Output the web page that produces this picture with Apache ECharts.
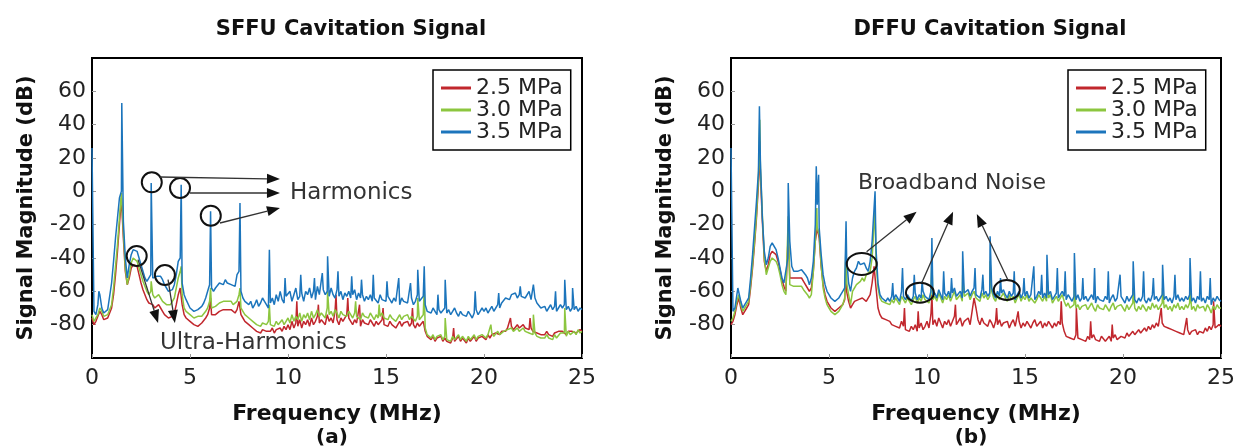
<!DOCTYPE html>
<html>
<head>
<meta charset="utf-8">
<script src="https://cdn.jsdelivr.net/npm/echarts@6/dist/echarts.min.js"></script>
<style>
  html, body { margin: 0; padding: 0; background: #fff; }
  #chart { width: 1240px; height: 447px; }
</style>
</head>
<body>
<div id="chart"></div>
<script>
// spectra sampled every 0.1 MHz from 0 to 25 MHz, values in dB
const STEP = 0.1;
const seriesNames = ['2.5 MPa', '3.0 MPa', '3.5 MPa'];
const colors = ['#c1272d', '#8cc63f', '#1c75bc'];

// SFFU, 3.5 MPa
const sffuHigh = [
  26, -72, -74, -68, -62, -70, -73, -72, -71, -70,
  -55, -42, -28, -16, -4, 0, -18, -40, -52, -44,
  -38, -35, -34, -36, -40, -44, -48, -52, -54, -55,
  -50, -52, -53, -51, -50, -51, -53, -56, -58, -60,
  -60, -59, -56, -50, -42, -40, -55, -62, -65, -66,
  -70, -71, -72, -72, -71, -70, -69, -67, -64, -60,
  -56, -58, -60, -58, -57, -55, -54, -56, -53, -55,
  -54, -56, -55, -57, -50, -48, -60, -64, -66, -65,
  -68, -66, -70, -68, -65, -69, -67, -64, -66, -68,
  -70, -67, -64, -68, -62, -66, -60, -65, -67, -63,
  -64, -60, -66, -62, -58, -65, -63, -61, -66, -60,
  -62, -58, -64, -60, -65, -57, -62, -63, -59, -62,
  -60, -63, -58, -62, -64, -59, -63, -60, -65, -61,
  -63, -60, -64, -62, -59, -65, -61, -64, -62, -66,
  -63, -65, -62, -66, -64, -63, -67, -62, -65, -64,
  -66, -63, -65, -67, -64, -66, -65, -68, -64, -66,
  -65, -67, -66, -64, -68, -66, -62, -66, -65, -63,
  -68, -72, -71, -73, -70, -72, -74, -71, -73, -72,
  -70, -73, -71, -74, -72, -70, -73, -75, -72, -74,
  -73, -75, -72, -74, -76, -73, -71, -74, -72, -70,
  -72, -70, -73, -71, -69, -72, -70, -68, -70, -67,
  -66, -64, -63, -65, -62, -63, -61, -64, -62, -63,
  -62, -64, -63, -60, -65, -66, -64, -67, -68, -70,
  -71, -69, -72, -70, -68, -71, -69, -72, -70, -68,
  -70, -68, -71, -69, -72, -70, -71, -69, -72, -70,
  -71
];
const sffuHighSpikes = [
  [0.35, -60], [1.52, 53], [3.02, 5], [4.55, 4], [6.05, -12], [7.55, -7], [9.05, -35],
  [9.85, -52], [10.65, -50], [11.35, -52], [11.75, -49], [12.02, -39], [12.55, -48],
  [13.25, -51], [13.75, -53], [14.35, -50], [15.05, -54], [15.65, -52], [16.25, -55],
  [16.62, -47], [16.95, -45], [17.65, -62], [18.02, -53], [19.55, -60], [20.75, -61],
  [21.85, -57], [22.52, -56], [23.65, -60], [24.12, -53], [24.52, -58]
];

// SFFU, 3.0 MPa
const sffuMid = [
  -74, -78, -76, -74, -70, -72, -75, -76, -74, -73,
  -68, -58, -45, -32, -16, -1, -24, -46, -56, -50,
  -43, -40, -40, -42, -46, -50, -54, -57, -60, -62,
  -60, -62, -64, -63, -62, -64, -66, -67, -68, -68,
  -68, -67, -64, -58, -52, -48, -62, -70, -72, -73,
  -74, -75, -76, -76, -75, -76, -75, -74, -72, -70,
  -66, -70, -70, -69, -68, -67, -67, -66, -67, -66,
  -67, -66, -68, -67, -66, -62, -70, -72, -74, -75,
  -76, -77, -78, -79, -80, -80, -81, -79, -80, -80,
  -78, -80, -79, -81, -78, -80, -79, -77, -80, -78,
  -76, -79, -74, -78, -75, -77, -73, -78, -74, -76,
  -73, -77, -72, -76, -74, -71, -75, -73, -72, -76,
  -70, -74, -72, -75, -71, -73, -76, -72, -74, -73,
  -75, -72, -74, -76, -73, -75, -74, -77, -73, -75,
  -74, -76, -73, -75, -77, -74, -76, -75, -73, -76,
  -75, -77, -74, -76, -75, -78, -76, -74, -77, -75,
  -76, -74, -77, -75, -76, -78, -75, -77, -76, -74,
  -82, -86, -87, -88, -86, -89, -87, -88, -86, -89,
  -87, -89, -88, -90, -87, -89, -88, -86, -89, -87,
  -88, -90, -87, -89, -88, -86, -89, -87, -88, -86,
  -87, -88, -86, -87, -85, -87, -86, -84, -86, -85,
  -84, -85, -83, -84, -82, -84, -83, -82, -84, -83,
  -82, -84, -83, -85, -84, -86, -85, -87, -86, -88,
  -87, -88, -86, -88, -87, -89, -86, -88, -87, -85,
  -86, -85, -87, -84, -86, -85, -84, -86, -83, -85,
  -84
];
const sffuMidSpikes = [
  [3.02, -54], [4.55, -45], [6.05, -58], [7.55, -58], [9.05, -68], [12.02, -60],
  [13.45, -66], [14.65, -68], [16.62, -64], [16.95, -58], [18.02, -76], [20.35, -80],
  [22.52, -74], [24.12, -70]
];

// SFFU, 2.5 MPa
const sffuLow = [
  -76, -80, -78, -75, -72, -74, -77, -78, -76, -75,
  -70, -62, -50, -36, -20, -4, -28, -48, -56, -52,
  -46, -44, -43, -45, -50, -55, -59, -62, -65, -67,
  -67, -68, -70, -69, -68, -70, -72, -74, -75, -76,
  -76, -75, -73, -68, -62, -58, -68, -74, -76, -77,
  -78, -79, -80, -80, -81, -80, -79, -78, -76, -74,
  -70, -74, -75, -74, -73, -72, -72, -71, -72, -71,
  -72, -71, -72, -73, -71, -66, -74, -76, -78, -79,
  -80, -81, -82, -83, -84, -84, -85, -83, -84, -84,
  -83, -84, -82, -85, -83, -84, -82, -84, -81, -83,
  -80, -83, -78, -82, -79, -81, -77, -82, -78, -80,
  -77, -81, -76, -80, -78, -75, -79, -77, -76, -80,
  -74, -78, -76, -79, -72, -77, -80, -76, -78, -77,
  -74, -76, -78, -80, -77, -79, -78, -81, -77, -79,
  -78, -80, -77, -79, -81, -78, -80, -79, -77, -80,
  -79, -81, -78, -80, -79, -82, -80, -78, -81, -79,
  -80, -78, -81, -79, -80, -82, -79, -81, -80, -78,
  -84, -87, -88, -89, -87, -90, -88, -89, -87, -90,
  -88, -90, -89, -91, -88, -90, -89, -87, -90, -88,
  -89, -91, -88, -90, -89, -87, -90, -88, -89, -87,
  -88, -89, -86, -88, -86, -87, -85, -84, -86, -84,
  -83, -84, -82, -83, -81, -83, -82, -80, -82, -81,
  -80, -82, -81, -83, -82, -84, -83, -85, -84, -86,
  -85, -86, -84, -86, -85, -87, -85, -86, -84, -85,
  -84, -85, -86, -84, -85, -84, -83, -85, -84, -83,
  -84
];
const sffuLowSpikes = [
  [6.05, -64], [10.45, -66], [11.55, -68], [12.45, -62], [13.05, -64], [13.65, -68],
  [14.85, -70], [16.35, -70], [18.45, -82], [21.35, -76], [22.35, -76]
];

// DFFU, 3.5 MPa
const dffuHigh = [
  26, -72, -70, -62, -58, -66, -70, -68, -66, -64,
  -52, -38, -22, -6, 12, 18, -16, -36, -44, -40,
  -33, -31, -32, -35, -40, -46, -52, -55, -54, -40,
  -30, -45, -48, -47, -48, -49, -47, -48, -50, -52,
  -56, -52, -42, -20, -8, -22, -38, -50, -56, -60,
  -62, -64, -65, -66, -65, -64, -62, -60, -58, -40,
  -55, -60, -52, -48, -46, -42, -44, -45, -43, -46,
  -48, -42, -30, -10, -35, -55, -62, -64, -65, -66,
  -64, -66, -63, -65, -62, -64, -66, -60, -63, -65,
  -62, -64, -66, -63, -61, -65, -62, -64, -60, -63,
  -62, -65, -60, -63, -61, -64, -59, -62, -65, -61,
  -63, -60, -64, -61, -58, -63, -62, -60, -64, -61,
  -62, -59, -63, -60, -58, -62, -61, -64, -59, -62,
  -60, -63, -61, -58, -62, -64, -60, -63, -61, -59,
  -62, -64, -60, -63, -61, -65, -62, -60, -64, -61,
  -63, -60, -64, -62, -61, -65, -63, -60, -62, -64,
  -61, -64, -62, -60, -65, -63, -61, -64, -62, -60,
  -63, -65, -62, -64, -66, -63, -65, -62, -66, -64,
  -65, -63, -66, -64, -62, -65, -67, -63, -65, -64,
  -66, -63, -65, -67, -64, -62, -66, -64, -65, -63,
  -65, -67, -63, -66, -64, -62, -65, -67, -64, -66,
  -63, -65, -67, -64, -66, -62, -65, -63, -66, -64,
  -62, -65, -63, -66, -64, -67, -63, -65, -62, -66,
  -64, -66, -63, -65, -62, -66, -64, -67, -63, -65,
  -66, -64, -67, -63, -65, -68, -64, -66, -63, -65,
  -66
];
const dffuHighSpikes = [
  [0.35, -58], [1.45, 51], [2.92, 5], [4.35, 15], [4.47, 10], [5.87, -18], [7.35, 0],
  [8.25, -55], [8.75, -46], [9.35, -50], [9.75, -54], [10.25, -28], [10.85, -48],
  [11.25, -52], [11.82, -36], [12.45, -46], [12.85, -50], [13.22, -27], [13.75, -52],
  [14.45, -48], [14.95, -52], [15.45, -45], [15.85, -50], [16.12, -38], [16.65, -46],
  [17.05, -48], [17.52, -37], [17.95, -52], [18.55, -46], [19.25, -48], [19.85, -50],
  [20.52, -42], [21.05, -48], [21.55, -52], [22.02, -44], [22.65, -50], [23.42, -40],
  [23.95, -48], [24.45, -52]
];

// DFFU, 3.0 MPa
const dffuMid = [
  -78, -76, -72, -66, -62, -68, -72, -70, -68, -66,
  -56, -44, -30, -14, 8, 14, -14, -40, -50, -46,
  -42, -40, -40, -42, -45, -50, -56, -60, -62, -63,
  -56, -56, -57, -58, -57, -58, -57, -59, -60, -62,
  -64, -62, -48, -30, -22, -26, -44, -58, -64, -68,
  -70, -72, -73, -74, -73, -72, -70, -68, -64, -55,
  -62, -68, -60, -58, -56, -55, -54, -52, -54, -50,
  -50, -48, -40, -20, -42, -58, -64, -66, -66, -67,
  -66, -68, -65, -67, -64, -66, -68, -63, -65, -67,
  -64, -66, -68, -65, -63, -67, -64, -66, -62, -65,
  -64, -67, -62, -65, -63, -66, -61, -64, -67, -63,
  -65, -62, -66, -63, -60, -65, -64, -62, -66, -63,
  -64, -61, -65, -62, -60, -64, -63, -66, -61, -64,
  -62, -65, -63, -60, -64, -66, -62, -65, -63, -61,
  -64, -66, -62, -65, -63, -67, -64, -62, -66, -63,
  -65, -62, -66, -64, -63, -67, -65, -62, -64, -66,
  -63, -66, -64, -62, -67, -65, -63, -66, -64, -62,
  -66, -69, -67, -70, -71, -68, -70, -68, -71, -69,
  -70, -68, -71, -69, -67, -70, -72, -68, -70, -69,
  -71, -68, -70, -72, -69, -67, -71, -69, -70, -68,
  -70, -72, -68, -71, -69, -67, -70, -72, -69, -71,
  -68, -70, -72, -69, -71, -67, -70, -68, -71, -69,
  -67, -70, -68, -71, -69, -72, -68, -70, -67, -71,
  -69, -71, -68, -70, -67, -71, -69, -72, -68, -70,
  -71, -69, -72, -68, -70, -73, -69, -71, -68, -70,
  -70
];
const dffuMidSpikes = [
  [1.47, 43], [2.92, -15], [4.38, -10], [5.87, -30], [7.35, -12], [10.25, -40],
  [11.82, -50], [13.22, -42], [16.12, -50], [17.52, -55], [20.52, -58], [22.02, -58],
  [23.42, -56]
];

// DFFU, 2.5 MPa
const dffuLow = [
  -80, -78, -74, -68, -64, -70, -74, -72, -70, -68,
  -58, -46, -32, -16, 4, 10, -18, -42, -48, -44,
  -38, -36, -36, -38, -42, -47, -53, -57, -60, -61,
  -52, -51, -52, -53, -52, -53, -52, -54, -55, -58,
  -60, -58, -48, -30, -22, -28, -45, -56, -62, -66,
  -68, -70, -71, -72, -71, -70, -69, -68, -65, -60,
  -66, -70, -68, -66, -67, -65, -66, -64, -65, -66,
  -65, -62, -55, -45, -58, -70, -74, -76, -75, -77,
  -76, -78, -80, -79, -81, -80, -82, -78, -81, -83,
  -82, -84, -81, -83, -80, -84, -82, -79, -83, -81,
  -78, -82, -74, -80, -77, -81, -76, -79, -82, -78,
  -80, -77, -81, -78, -75, -80, -79, -76, -81, -78,
  -79, -76, -80, -72, -64, -70, -77, -80, -76, -79,
  -78, -81, -77, -79, -82, -78, -80, -77, -81, -79,
  -80, -78, -82, -79, -77, -81, -80, -78, -82, -79,
  -81, -78, -80, -82, -79, -77, -81, -80, -78, -82,
  -79, -81, -78, -80, -82, -79, -81, -78, -80, -79,
  -84, -87, -86, -88, -87, -89, -86, -88, -87, -89,
  -88, -90, -87, -89, -88, -86, -89, -88, -90, -87,
  -88, -90, -89, -87, -90, -88, -86, -89, -88, -87,
  -86, -88, -85, -87, -86, -84, -86, -85, -83, -85,
  -84, -82, -84, -81, -83, -80, -82, -79, -81, -80,
  -79, -81, -80, -82, -81, -83, -82, -84, -83, -85,
  -84, -86, -85, -83, -86, -84, -85, -83, -86, -84,
  -83, -85, -82, -84, -81, -83, -80, -82, -81, -80,
  -81
];
const dffuLowSpikes = [
  [1.47, 30], [2.92, -25], [5.87, -40], [8.85, -70], [9.55, -72], [10.25, -62],
  [11.45, -68], [13.55, -70], [14.65, -72], [16.85, -66], [17.62, -70], [18.35, -78],
  [19.45, -80], [21.95, -70], [23.25, -76], [24.62, -66]
];

// annotations, in data coordinates [MHz, dB]
const sffuCircles = [[3.05, 5.4], [4.49, 2], [6.06, -14.6], [2.28, -38.8], [3.72, -50.2]];
const sffuArrows = [
  [[3.47, 8.6], [9.59, 7.4]],
  [[5.0, -1], [9.59, -1]],
  [[6.53, -19], [9.59, -10]],
  [[2.35, -41], [3.37, -79]],
  [[3.88, -53], [4.23, -79]]
];
const dffuEllipses = [[6.67, -43.6, 15, 11], [9.64, -60.8, 14, 10], [14.07, -59.2, 13, 10]];
const dffuArrows = [
  [[6.92, -36.2], [9.47, -12.2]],
  [[9.73, -55], [11.33, -12.2]],
  [[14.13, -53.2], [12.54, -13.6]]
];

function build(values, spikes) {
  const pts = values.map((v, i) => [Math.round(i * STEP * 100) / 100, v]);
  spikes.forEach(s => pts.push(s));
  pts.sort((a, b) => a[0] - b[0]);
  return pts;
}

const chart = echarts.init(document.getElementById('chart'));
const font = '"DejaVu Sans", sans-serif';

function xAxisFor(gi) {
  return {
    gridIndex: gi, type: 'value', min: 0, max: 25, interval: 5,
    axisLine: { show: true, onZero: false, lineStyle: { color: '#000', width: 2 } },
    axisTick: { inside: true, length: 4, lineStyle: { color: '#999' } },
    axisLabel: { fontSize: 22, color: '#222', margin: 9, fontFamily: font },
    splitLine: { show: false },
    name: 'Frequency (MHz)', nameLocation: 'middle', nameGap: 45,
    nameTextStyle: { fontSize: 22, fontWeight: 'bold', color: '#111', fontFamily: font }
  };
}
function yAxisFor(gi) {
  return {
    gridIndex: gi, type: 'value', min: -100, max: 80, interval: 20,
    axisLine: { show: true, onZero: false, lineStyle: { color: '#000', width: 2 } },
    axisTick: { inside: true, length: 4, lineStyle: { color: '#999' } },
    axisLabel: { fontSize: 22, color: '#222', margin: 6, fontFamily: font,
      showMinLabel: false, showMaxLabel: false },
    splitLine: { show: false },
    name: 'Signal Magnitude (dB)', nameLocation: 'middle', nameGap: 55, nameRotate: 90,
    nameTextStyle: { fontSize: 21, fontWeight: 'bold', color: '#111', fontFamily: font }
  };
}
function lineSeries(name, gi, data, color) {
  return {
    name: name, type: 'line', xAxisIndex: gi, yAxisIndex: gi, data: data,
    showSymbol: false, symbol: 'none', animation: false,
    lineStyle: { color: color, width: 1.5 }, itemStyle: { color: color }
  };
}
function legendAt(left) {
  return {
    data: seriesNames, orient: 'vertical', left: left, top: 70,
    icon: 'rect', itemWidth: 30, itemHeight: 3, itemGap: 0,
    borderColor: '#000', borderWidth: 1.5, padding: [7, 8, 7, 8],
    textStyle: { fontSize: 22, color: '#222', fontFamily: font, lineHeight: 22 }
  };
}

chart.setOption({
  animation: false,
  grid: [
    { left: 92, top: 58, width: 490, height: 300, show: true, borderColor: '#000', borderWidth: 2 },
    { left: 731, top: 58, width: 490, height: 300, show: true, borderColor: '#000', borderWidth: 2 }
  ],
  xAxis: [xAxisFor(0), xAxisFor(1)],
  yAxis: [yAxisFor(0), yAxisFor(1)],
  legend: [legendAt(433), legendAt(1068)],
  series: [
    lineSeries(seriesNames[0], 0, build(sffuLow, sffuLowSpikes), colors[0]),
    lineSeries(seriesNames[1], 0, build(sffuMid, sffuMidSpikes), colors[1]),
    lineSeries(seriesNames[2], 0, build(sffuHigh, sffuHighSpikes), colors[2]),
    lineSeries(seriesNames[0], 1, build(dffuLow, dffuLowSpikes), colors[0]),
    lineSeries(seriesNames[1], 1, build(dffuMid, dffuMidSpikes), colors[1]),
    lineSeries(seriesNames[2], 1, build(dffuHigh, dffuHighSpikes), colors[2])
  ]
});

// annotation layer
const px = (gi, p) => chart.convertToPixel({ gridIndex: gi }, p);
const g = [];
function arrow(gi, a, b) {
  const p0 = px(gi, a), p1 = px(gi, b);
  const dx = p1[0] - p0[0], dy = p1[1] - p0[1];
  const len = Math.sqrt(dx * dx + dy * dy);
  const ux = dx / len, uy = dy / len, L = 13, W = 5;
  const bx = p1[0] - ux * L, by = p1[1] - uy * L;
  g.push({ type: 'line', shape: { x1: p0[0], y1: p0[1], x2: bx, y2: by },
    style: { stroke: '#333', lineWidth: 1.3 }, z: 100 });
  g.push({ type: 'polygon', shape: { points: [p1, [bx - uy * W, by + ux * W], [bx + uy * W, by - ux * W]] },
    style: { fill: '#111' }, z: 100 });
}
function text(str, x, y, opts) {
  g.push({ type: 'text', x: x, y: y, z: 100,
    style: Object.assign({ text: str, fill: '#222', font: '22px ' + font,
      textAlign: 'center', textVerticalAlign: 'middle' }, opts || {}) });
}
sffuCircles.forEach(c => {
  const p = px(0, c);
  g.push({ type: 'circle', shape: { cx: p[0], cy: p[1], r: 10 },
    style: { fill: 'none', stroke: '#111', lineWidth: 2 }, z: 100 });
});
sffuArrows.forEach(a => arrow(0, a[0], a[1]));
dffuEllipses.forEach(e => {
  const p = px(1, [e[0], e[1]]);
  g.push({ type: 'ellipse', shape: { cx: p[0], cy: p[1], rx: e[2], ry: e[3] },
    style: { fill: 'none', stroke: '#111', lineWidth: 2 }, z: 100 });
});
dffuArrows.forEach(a => arrow(1, a[0], a[1]));

const hp = px(0, [10.1, -1]);
text('Harmonics', hp[0], hp[1], { textAlign: 'left', font: '23px ' + font, fill: '#333' });
const up = px(0, [3.47, -91]);
text('Ultra-Harmonics', up[0], up[1], { textAlign: 'left', font: '23px ' + font, fill: '#333' });
const bp = px(1, [6.48, 5]);
text('Broadband Noise', bp[0], bp[1], { textAlign: 'left', font: '22px ' + font, fill: '#333' });

text('SFFU Cavitation Signal', 351, 30, { font: 'bold 21px ' + font, fill: '#111' });
text('DFFU Cavitation Signal', 990, 30, { font: 'bold 21px ' + font, fill: '#111' });
text('(a)', 332, 438, { font: 'bold 20px ' + font, fill: '#111' });
text('(b)', 971, 438, { font: 'bold 20px ' + font, fill: '#111' });

chart.setOption({ graphic: g });
</script>
</body>
</html>
